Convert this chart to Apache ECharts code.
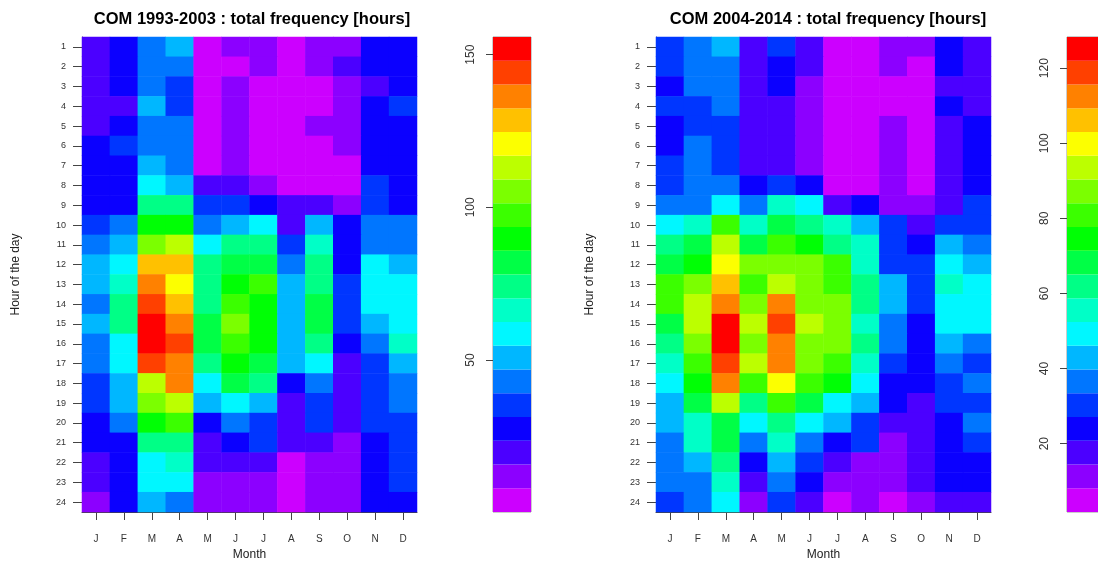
<!DOCTYPE html>
<html>
<head>
<meta charset="utf-8">
<script src="https://cdn.jsdelivr.net/npm/echarts@6/dist/echarts.min.js"></script>
<style>
  html, body { margin: 0; padding: 0; background: #ffffff; }
  #chart { width: 1098px; height: 562px; }
</style>
</head>
<body>
<div id="chart"></div>
<script>
// Month initials along the x axis, hours of the day along the y axis
const months = ['J', 'F', 'M', 'A', 'M', 'J', 'J', 'A', 'S', 'O', 'N', 'D'];
const hours = ['1', '2', '3', '4', '5', '6', '7', '8', '9', '10', '11', '12',
               '13', '14', '15', '16', '17', '18', '19', '20', '21', '22', '23', '24'];

// Total frequency [hours], one row per hour of the day (1..24), one value per month
const freq1993 = [
  [20, 28, 43, 51, 4, 12, 12, 4, 12, 12, 28, 28],
  [20, 28, 43, 43, 4, 4, 12, 4, 12, 20, 28, 28],
  [20, 28, 43, 35, 4, 12, 4, 4, 4, 12, 20, 28],
  [20, 20, 51, 35, 4, 12, 4, 4, 4, 12, 28, 35],
  [20, 28, 43, 43, 4, 12, 4, 4, 12, 12, 28, 28],
  [28, 35, 43, 43, 4, 12, 4, 4, 4, 12, 28, 28],
  [28, 28, 51, 43, 4, 12, 4, 4, 4, 4, 28, 28],
  [28, 28, 59, 51, 20, 20, 12, 4, 4, 4, 35, 28],
  [28, 28, 74, 74, 35, 35, 28, 20, 20, 12, 35, 28],
  [35, 43, 90, 90, 43, 51, 59, 20, 51, 28, 43, 43],
  [43, 51, 106, 113, 59, 74, 74, 35, 67, 28, 43, 43],
  [51, 59, 129, 129, 74, 82, 82, 43, 74, 28, 59, 51],
  [51, 67, 137, 121, 74, 90, 98, 51, 74, 35, 59, 59],
  [43, 74, 145, 129, 74, 98, 90, 51, 82, 35, 59, 59],
  [51, 74, 152, 137, 82, 106, 90, 51, 82, 35, 51, 59],
  [43, 59, 152, 145, 82, 98, 90, 51, 74, 28, 43, 67],
  [43, 59, 145, 137, 74, 90, 82, 51, 59, 20, 35, 51],
  [35, 51, 113, 137, 59, 82, 74, 28, 43, 20, 35, 43],
  [35, 51, 106, 113, 51, 59, 51, 20, 35, 20, 35, 43],
  [28, 43, 90, 98, 28, 43, 35, 20, 35, 20, 35, 35],
  [28, 28, 74, 74, 20, 28, 35, 20, 20, 12, 28, 35],
  [20, 28, 59, 67, 20, 20, 20, 4, 12, 12, 28, 35],
  [20, 28, 59, 59, 12, 12, 12, 4, 12, 12, 28, 35],
  [12, 28, 51, 43, 12, 12, 12, 4, 12, 12, 28, 28]
];

const freq2004 = [
  [30, 37, 43, 18, 30, 18, 5, 5, 11, 11, 24, 18],
  [30, 37, 37, 18, 24, 18, 5, 5, 11, 5, 24, 18],
  [24, 37, 37, 18, 24, 11, 5, 5, 5, 5, 18, 18],
  [30, 30, 37, 18, 18, 11, 5, 5, 5, 5, 24, 18],
  [24, 30, 30, 18, 18, 11, 5, 5, 11, 5, 18, 24],
  [24, 37, 30, 18, 18, 11, 5, 5, 11, 5, 18, 24],
  [30, 37, 30, 18, 18, 11, 5, 5, 11, 5, 18, 24],
  [30, 37, 37, 24, 30, 24, 5, 5, 11, 5, 18, 24],
  [37, 37, 49, 37, 56, 49, 18, 24, 11, 11, 18, 30],
  [49, 56, 81, 56, 68, 62, 56, 43, 30, 18, 30, 30],
  [62, 68, 94, 68, 81, 75, 62, 56, 30, 24, 43, 37],
  [68, 75, 100, 87, 87, 87, 81, 56, 30, 30, 49, 43],
  [81, 87, 106, 81, 94, 87, 81, 62, 43, 30, 56, 49],
  [81, 94, 113, 87, 113, 87, 87, 62, 43, 30, 49, 49],
  [68, 94, 125, 94, 119, 94, 87, 56, 37, 24, 49, 49],
  [62, 87, 125, 87, 113, 87, 87, 62, 37, 24, 43, 37],
  [56, 81, 119, 94, 113, 87, 81, 56, 30, 24, 37, 30],
  [49, 75, 113, 81, 100, 81, 75, 49, 24, 24, 30, 37],
  [43, 68, 94, 62, 81, 68, 49, 43, 24, 18, 30, 30],
  [43, 56, 68, 49, 62, 49, 43, 30, 18, 18, 24, 37],
  [37, 56, 68, 37, 56, 37, 24, 30, 11, 18, 24, 30],
  [37, 43, 62, 24, 43, 30, 18, 11, 11, 18, 24, 24],
  [37, 37, 56, 18, 37, 24, 11, 11, 11, 18, 24, 24],
  [30, 37, 49, 11, 30, 18, 5, 11, 5, 11, 18, 18]
];

// Colour scale limits and colour-bar tick labels
const scale1993 = [0.2, 155.8];
const scale2004 = [1.8, 128.3];
const ticks1993 = [50, 100, 150];
const ticks2004 = [20, 40, 60, 80, 100, 120];
const nLevels = 20;

// Rainbow palette, low (violet) to high (red)
function hsvHex(h) {
  const s6 = (h % 360) / 60, i = Math.floor(s6), f = s6 - i;
  const q = 1 - f, t = f;
  const rgb = [[1, t, 0], [q, 1, 0], [0, 1, t], [0, q, 1], [t, 0, 1], [1, 0, q]][i % 6];
  return '#' + rgb.map(v => Math.round(v * 255).toString(16).padStart(2, '0')).join('');
}
const palette = [];
for (let k = 0; k < nLevels; k++) palette.push(hsvHex(288 * (nLevels - 1 - k) / (nLevels - 1)));

function breaksOf(scale) {
  const b = [];
  for (let k = 0; k <= nLevels; k++) b.push(scale[0] + (scale[1] - scale[0]) * k / nLevels);
  return b;
}
function piecesOf(scale) {
  const b = breaksOf(scale);
  return palette.map((c, k) => ({ gte: k === 0 ? -1e9 : b[k], lt: k === nLevels - 1 ? 1e9 : b[k + 1], color: c }));
}
function cells(table) {
  const out = [];
  table.forEach((row, h) => row.forEach((v, m) => out.push([m, h, v])));
  return out;
}
function barSeries(scale, idx) {
  const b = breaksOf(scale);
  return {
    type: 'custom',
    xAxisIndex: idx, yAxisIndex: idx,
    data: palette.map((c, k) => [k]),
    renderItem: function (params, api) {
      const k = api.value(0);
      const p0 = api.coord([0, b[k + 1]]);
      const p1 = api.coord([1, b[k]]);
      return {
        type: 'rect',
        shape: { x: p0[0], y: p0[1], width: p1[0] - p0[0], height: p1[1] - p0[1] },
        style: { fill: palette[k] }
      };
    },
    silent: true,
    z: 2
  };
}

const FONT = '"Liberation Sans", Arial, Helvetica, sans-serif';
const TOP = 37, H = 475;

function monthAxis(idx) {
  return {
    type: 'category', gridIndex: idx, data: months,
    axisLine: { show: true, lineStyle: { color: '#444', width: 1 } },
    axisTick: { show: true, alignWithLabel: true, length: 8, lineStyle: { color: '#444' } },
    axisLabel: { fontFamily: FONT, fontSize: 10, color: '#333', margin: 22, interval: 0 },
    name: 'Month', nameLocation: 'middle', nameGap: 35,
    nameTextStyle: { fontFamily: FONT, fontSize: 12, color: '#222' }
  };
}
function hourAxis(idx) {
  return {
    type: 'category', gridIndex: idx, data: hours, inverse: true,
    axisLine: { show: true, lineStyle: { color: '#444', width: 1 } },
    axisTick: { show: true, alignWithLabel: true, length: 9, lineStyle: { color: '#444' } },
    axisLabel: { fontFamily: FONT, fontSize: 9, color: '#333', margin: 16, interval: 0 },
    name: 'Hour of the day', nameLocation: 'middle', nameGap: 60, nameRotate: 90,
    nameTextStyle: { fontFamily: FONT, fontSize: 12, color: '#222' }
  };
}
function barXAxis(idx) {
  return { type: 'value', gridIndex: idx, min: 0, max: 1, show: false };
}
function barYAxis(idx, scale, ticks) {
  return {
    type: 'value', gridIndex: idx, min: scale[0], max: scale[1],
    splitLine: { show: false },
    axisLine: { show: false },
    axisTick: { show: true, length: 7, customValues: ticks, lineStyle: { color: '#444' } },
    axisLabel: { fontFamily: FONT, fontSize: 12, color: '#333', rotate: 90, margin: 16, customValues: ticks }
  };
}

const chart = echarts.init(document.getElementById('chart'), null, { renderer: 'canvas' });
chart.setOption({
  backgroundColor: '#ffffff',
  animation: false,
  title: [
    { text: 'COM 1993-2003 : total frequency [hours]', left: 247, top: 6, textAlign: 'center',
      textStyle: { fontFamily: FONT, fontSize: 16.5, fontWeight: 'bold', color: '#000' } },
    { text: 'COM 2004-2014 : total frequency [hours]', left: 823, top: 6, textAlign: 'center',
      textStyle: { fontFamily: FONT, fontSize: 16.5, fontWeight: 'bold', color: '#000' } }
  ],
  grid: [
    { left: 82, top: TOP, width: 335, height: H, outerBoundsMode: 'none', containLabel: false },
    { left: 656, top: TOP, width: 335, height: H, outerBoundsMode: 'none', containLabel: false },
    { left: 493, top: TOP, width: 38, height: H, outerBoundsMode: 'none', show: true, borderColor: '#999', borderWidth: 1 },
    { left: 1067, top: TOP, width: 40, height: H, outerBoundsMode: 'none', show: true, borderColor: '#999', borderWidth: 1 }
  ],
  xAxis: [monthAxis(0), monthAxis(1), barXAxis(2), barXAxis(3)],
  yAxis: [hourAxis(0), hourAxis(1), barYAxis(2, scale1993, ticks1993), barYAxis(3, scale2004, ticks2004)],
  visualMap: [
    { type: 'piecewise', show: false, seriesIndex: 0, dimension: 2, pieces: piecesOf(scale1993) },
    { type: 'piecewise', show: false, seriesIndex: 1, dimension: 2, pieces: piecesOf(scale2004) }
  ],
  series: [
    { type: 'heatmap', xAxisIndex: 0, yAxisIndex: 0, data: cells(freq1993), itemStyle: { borderWidth: 0 } },
    { type: 'heatmap', xAxisIndex: 1, yAxisIndex: 1, data: cells(freq2004), itemStyle: { borderWidth: 0 } },
    barSeries(scale1993, 2),
    barSeries(scale2004, 3)
  ]
});
</script>
</body>
</html>
